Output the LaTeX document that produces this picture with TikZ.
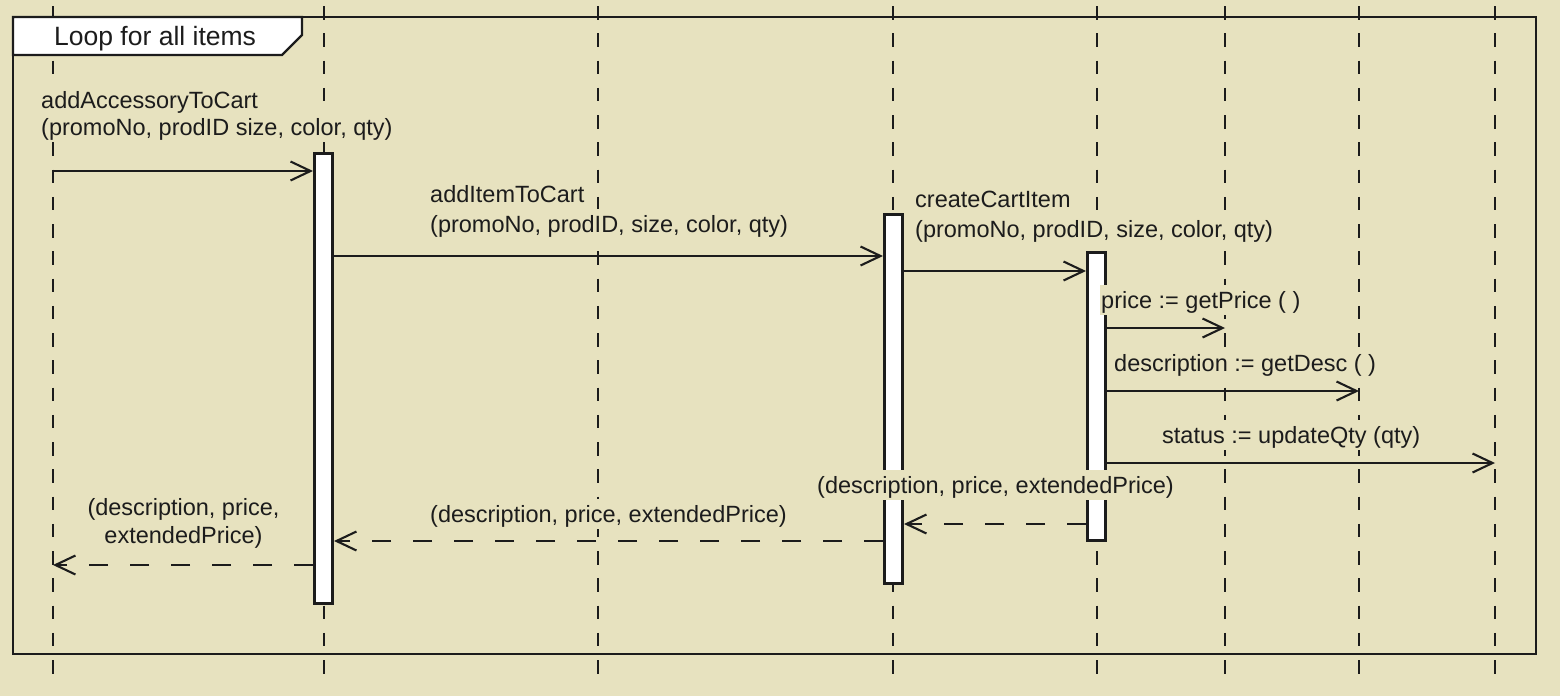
\documentclass[tikz,border=0pt]{standalone}
\usepackage{fontspec}
\setmainfont{Liberation Sans}
\usetikzlibrary{arrows.meta}
\definecolor{bg}{RGB}{231,226,191}
\definecolor{ink}{RGB}{28,28,28}
\begin{document}
\begin{tikzpicture}[x=1pt,y=1pt,
  lifeline/.style={draw=ink, line width=2.5pt, dash pattern=on 13.5pt off 13.75pt},
  frame/.style={draw=ink, line width=2.3pt},
  bar/.style={draw=ink, fill=white, line width=3pt, minimum width=18pt, inner sep=0pt},
  msg/.style={draw=ink, line width=2.1pt, -{Straight Barb[length=20pt,width=19pt]}},
  ret/.style={msg, dash pattern=on 19pt off 22pt},
  lbl/.style={font=\fontsize{23.5}{28}\selectfont, text=ink, fill=bg, inner xsep=1pt, inner ysep=0pt, text height=23pt, text depth=7pt, anchor=base west},
  lblc/.style={lbl, anchor=base},
  tagtext/.style={font=\fontsize{26.5}{30}\selectfont, text=ink, inner sep=0pt, anchor=base west}
]
\useasboundingbox (0,0) rectangle (1560,-696);
\fill[bg] (0,0) rectangle (1560,-696);

% lifelines
\foreach \n/\x in {1/53,2/324,3/598,4/893,5/1097,6/1225,7/1359,8/1495}{
  \coordinate (L\n top) at (\x,-6);
  \coordinate (L\n bot) at (\x,-674);
  \draw[lifeline] (L\n top) -- (L\n bot);
}

% loop frame
\draw[frame] (13,-17) rectangle (1536,-654);
\draw[frame, fill=white] (13,-17) -- (302,-17) -- (302,-35) -- (282,-55) -- (13,-55) -- cycle;
\node[tagtext] (tag) at (54,-45) {Loop for all items};

% activation bars
\node[bar, minimum height=450pt] (b1) at (323.5,-378.5) {};
\node[bar, minimum height=369pt] (b2) at (893.5,-399) {};
\node[bar, minimum height=288pt] (b3) at (1096.5,-396.5) {};

% message heights
\foreach \n/\y in {1/171,2/256,3/271,4/328,5/391,6/463,7/524,8/541,9/565}{
  \coordinate (m\n) at (0,-\y);
}

% messages
\draw[msg] (m1 -| L1top) -- (m1 -| b1.west);
\draw[msg] (m2 -| b1.east) -- (m2 -| b2.west);
\draw[msg] (m3 -| b2.east) -- (m3 -| b3.west);
\draw[msg] (m4 -| b3.east) -- (m4 -| L6top);
\draw[msg] (m5 -| b3.east) -- (m5 -| L7top);
\draw[msg] (m6 -| b3.east) -- (m6 -| L8top);
\draw[ret] (m7 -| b3.west) -- (m7 -| b2.east);
\draw[ret] (m8 -| b2.west) -- (m8 -| b1.east);
\draw[ret] (m9 -| b1.west) -- (m9 -| L1top);

% labels (second lines first, so first-line descenders stay visible)
\node[lbl] (t1b) at (40,-135) {(promoNo, prodID size, color, qty)};
\node[lbl] (t1a) at (40,-108) {addAccessoryToCart};
\node[lbl] (t2b) at (429,-232) {(promoNo, prodID, size, color, qty)};
\node[lbl] (t2a) at (429,-202) {addItemToCart};
\node[lbl] (t3b) at (914,-237) {(promoNo, prodID, size, color, qty)};
\node[lbl] (t3a) at (914,-207) {createCartItem};
\node[lbl] (t4) at (1100,-308) {price := getPrice ( )};
\node[lbl] (t5) at (1113,-371) {description := getDesc ( )};
\node[lbl] (t6) at (1161,-443) {status := updateQty (qty)};
\node[lbl] (t7) at (816,-493) {(description, price, extendedPrice)};
\node[lbl] (t8) at (429,-522) {(description, price, extendedPrice)};
\node[lblc] (t9b) at (183.5,-543) {extendedPrice)};
\node[lblc] (t9a) at (183.5,-515) {(description, price,};
\end{tikzpicture}
\end{document}
